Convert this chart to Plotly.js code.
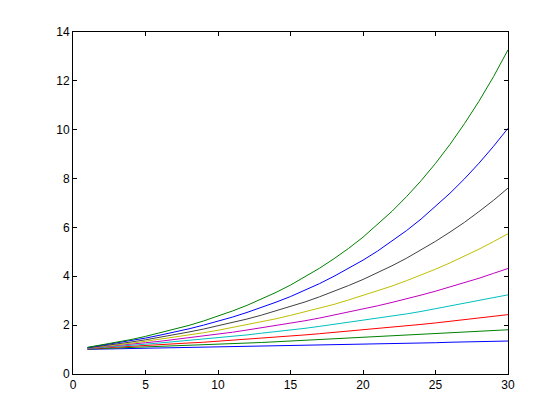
<!DOCTYPE html>
<html>
<head>
<meta charset="utf-8">
<script src="https://cdn.plot.ly/plotly-3.0.1.min.js"></script>
<style>html,body{margin:0;padding:0;background:#fff;}#chart{width:560px;height:420px;}</style>
</head>
<body>
<div id="chart"></div>
<script>
var years = [1,2,3,4,5,6,7,8,9,10,11,12,13,14,15,16,17,18,19,20,21,22,23,24,25,26,27,28,29,30];
var rate1 = [1.01,1.02,1.03,1.04,1.05,1.06,1.07,1.08,1.09,1.10,1.12,1.13,1.14,1.15,1.16,1.17,1.18,1.20,1.21,1.22,1.23,1.24,1.26,1.27,1.28,1.30,1.31,1.32,1.33,1.35];
var rate2 = [1.02,1.04,1.06,1.08,1.10,1.13,1.15,1.17,1.20,1.22,1.24,1.27,1.29,1.32,1.35,1.37,1.40,1.43,1.46,1.49,1.52,1.55,1.58,1.61,1.64,1.67,1.71,1.74,1.78,1.81];
var rate3 = [1.03,1.06,1.09,1.13,1.16,1.19,1.23,1.27,1.30,1.34,1.38,1.43,1.47,1.51,1.56,1.60,1.65,1.70,1.75,1.81,1.86,1.92,1.97,2.03,2.09,2.16,2.22,2.29,2.36,2.43];
var rate4 = [1.04,1.08,1.12,1.17,1.22,1.27,1.32,1.37,1.42,1.48,1.54,1.60,1.67,1.73,1.80,1.87,1.95,2.03,2.11,2.19,2.28,2.37,2.46,2.56,2.67,2.77,2.88,3.00,3.12,3.24];
var rate5 = [1.05,1.10,1.16,1.22,1.28,1.34,1.41,1.48,1.55,1.63,1.71,1.80,1.89,1.98,2.08,2.18,2.29,2.41,2.53,2.65,2.79,2.93,3.07,3.23,3.39,3.56,3.73,3.92,4.12,4.32];
var rate6 = [1.06,1.12,1.19,1.26,1.34,1.42,1.50,1.59,1.69,1.79,1.90,2.01,2.13,2.26,2.40,2.54,2.69,2.85,3.03,3.21,3.40,3.60,3.82,4.05,4.29,4.55,4.82,5.11,5.42,5.74];
var rate7 = [1.07,1.14,1.23,1.31,1.40,1.50,1.61,1.72,1.84,1.97,2.10,2.25,2.41,2.58,2.76,2.95,3.16,3.38,3.62,3.87,4.14,4.43,4.74,5.07,5.43,5.81,6.21,6.65,7.11,7.61];
var rate8 = [1.08,1.17,1.26,1.36,1.47,1.59,1.71,1.85,2.00,2.16,2.33,2.52,2.72,2.94,3.17,3.43,3.70,4.00,4.32,4.66,5.03,5.44,5.87,6.34,6.85,7.40,7.99,8.63,9.32,10.06];
var rate9 = [1.09,1.19,1.30,1.41,1.54,1.68,1.83,1.99,2.17,2.37,2.58,2.81,3.07,3.34,3.64,3.97,4.33,4.72,5.14,5.60,6.11,6.66,7.26,7.91,8.62,9.40,10.25,11.17,12.17,13.27];
var series = [rate1, rate2, rate3, rate4, rate5, rate6, rate7, rate8, rate9];
var colors = ['#0000ff','#008000','#ff0000','#00bfbf','#bf00bf','#bfbf00','#404040','#0000ff','#008000'];

var traces = series.map(function(s, i) {
  return {x: years, y: s, type: 'scatter', mode: 'lines',
          line: {color: colors[i], width: 1}, showlegend: false, hoverinfo: 'none'};
});

var axisCommon = {
  showgrid: false, zeroline: false, showline: true, mirror: 'ticks',
  linecolor: '#000', linewidth: 1, ticks: 'inside', ticklen: 4,
  tickcolor: '#000', tickfont: {family: 'Liberation Sans, Arial, sans-serif', size: 12, color: '#000'}
};

var layout = {
  width: 560, height: 420,
  margin: {l: 73, r: 52, t: 32, b: 46},
  paper_bgcolor: '#fff', plot_bgcolor: '#fff',
  xaxis: Object.assign({}, axisCommon, {range: [0, 30], tickvals: [0,5,10,15,20,25,30], ticktext: ['0','5','10','15','20','25','30']}),
  yaxis: Object.assign({}, axisCommon, {range: [0, 14], tickvals: [0,2,4,6,8,10,12,14], ticktext: ['0','2','4','6','8','10','12','14']})
};

Plotly.newPlot('chart', traces, layout, {displayModeBar: false, staticPlot: true});
</script>
</body>
</html>
